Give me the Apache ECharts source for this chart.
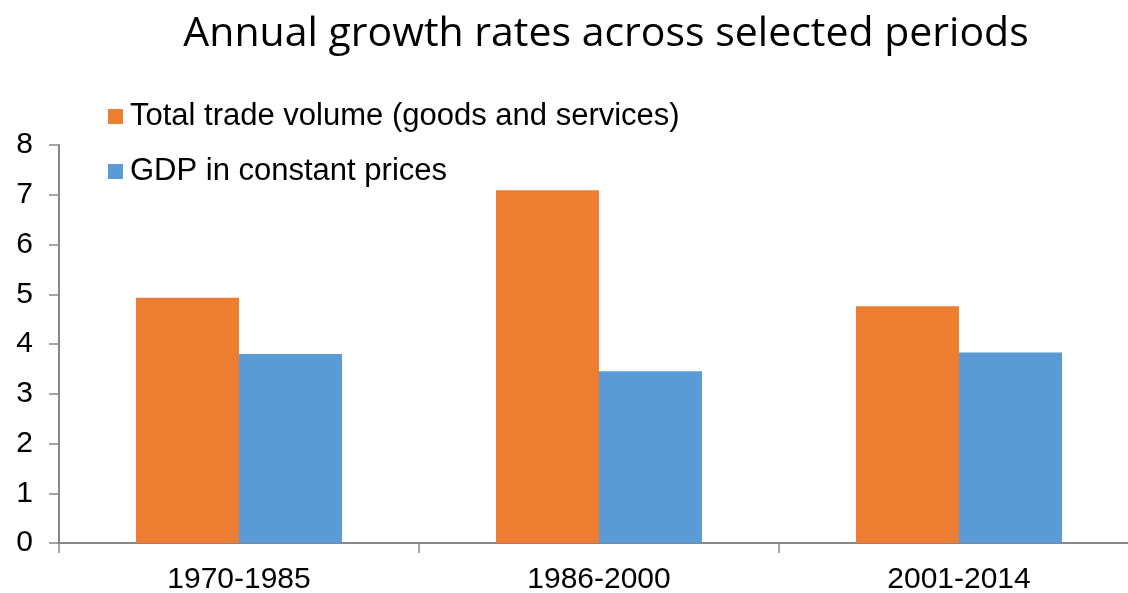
<!DOCTYPE html>
<html>
<head>
<meta charset="utf-8">
<script src="https://cdn.jsdelivr.net/npm/echarts@6/dist/echarts.min.js"></script>
<style>
  html, body { margin: 0; padding: 0; background: #fff; }
  #chart { width: 1128px; height: 593px; }
</style>
</head>
<body>
<div id="chart"></div>
<script>
// Periods on the category axis
const periods = ['1970-1985', '1986-2000', '2001-2014'];
// Average annual growth (%) per period
const tradeVolume = [4.93, 7.09, 4.76];
const gdpConstant = [3.80, 3.45, 3.83];
// Value axis ticks
const yTicks = [0, 1, 2, 3, 4, 5, 6, 7, 8];

const seriesNames = ['Total trade volume (goods and services)', 'GDP in constant prices'];
const axisGrey = '#868686';
const labelFont = 'Liberation Sans';

const chart = echarts.init(document.getElementById('chart'), null, { renderer: 'canvas' });

chart.setOption({
  animation: false,
  backgroundColor: '#ffffff',
  title: {
    text: 'Annual growth rates across selected periods',
    left: 601,
    textAlign: 'center',
    top: 9,
    textStyle: {
      fontFamily: 'Open Sans',
      fontWeight: 'normal',
      fontSize: 41,
      color: '#000'
    }
  },
  legend: {
    orient: 'vertical',
    left: 103,
    top: 96,
    itemWidth: 15,
    itemHeight: 15,
    itemGap: 24,
    icon: 'rect',
    textStyle: {
      fontFamily: labelFont,
      fontSize: 31,
      color: '#000',
      padding: [0, 0, 0, 2]
    },
    data: seriesNames
  },
  grid: {
    left: 59,
    top: 145,
    width: 1080,
    height: 398,
    outerBoundsMode: 'none',
    containLabel: false
  },
  xAxis: {
    type: 'category',
    data: periods,
    axisLine: { lineStyle: { color: axisGrey, width: 2 } },
    axisTick: { show: true, length: 10, lineStyle: { color: axisGrey, width: 1.5 } },
    axisLabel: {
      margin: 22,
      fontFamily: labelFont,
      fontSize: 30,
      color: '#000'
    }
  },
  yAxis: {
    type: 'value',
    min: yTicks[0],
    max: yTicks[yTicks.length - 1],
    interval: 1,
    axisLine: { show: true, lineStyle: { color: axisGrey, width: 2 } },
    axisTick: { show: true, length: 10, lineStyle: { color: axisGrey, width: 1.5 } },
    splitLine: { show: false },
    axisLabel: {
      margin: 26,
      fontFamily: labelFont,
      fontSize: 30,
      color: '#000'
    }
  },
  series: [
    {
      name: seriesNames[0],
      type: 'bar',
      data: tradeVolume,
      barWidth: 103,
      barGap: '0%',
      itemStyle: { color: '#ED7D31' }
    },
    {
      name: seriesNames[1],
      type: 'bar',
      data: gdpConstant,
      barWidth: 103,
      barGap: '0%',
      itemStyle: { color: '#5B9BD5' }
    }
  ]
});
</script>
</body>
</html>
